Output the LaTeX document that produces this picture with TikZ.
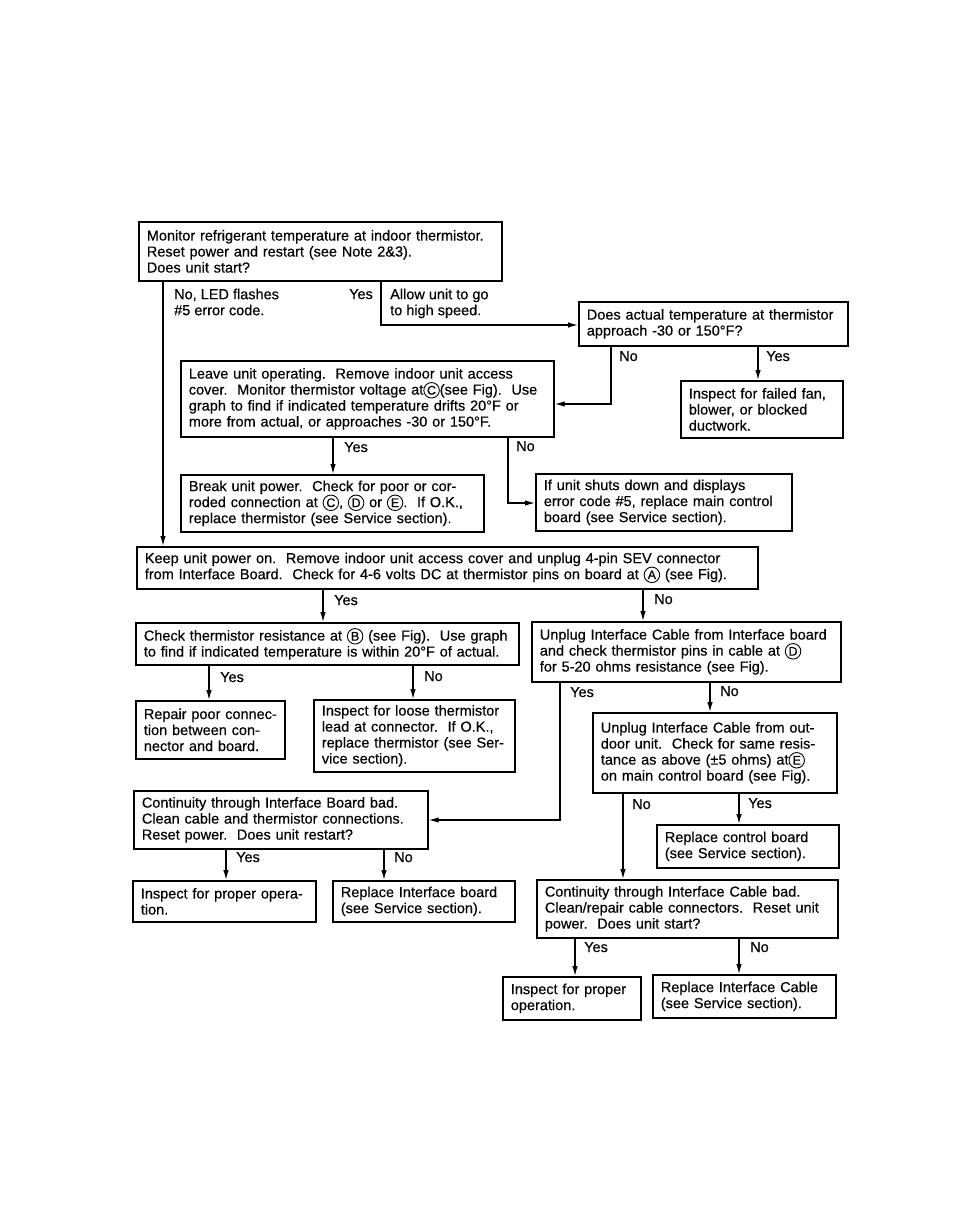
\documentclass[tikz,border=0pt]{standalone}
\usepackage{fontspec}
\setmainfont{Liberation Sans}[FakeBold=0.4]
\usetikzlibrary{arrows.meta}
\newcommand\cir[1]{\tikz[baseline=(cc.base)]\node[circle,draw,line width=0.9pt,inner sep=0pt,minimum size=15.5pt,text width={},align=center,anchor=center,font=\fontsize{12.5}{12.5}\selectfont] (cc) {#1};}
\newcommand\bx[6]{\node[box,minimum width={#4-#2},minimum height={#5-#3},text width={#4-#2-16}] (#1) at (#2,#3) {#6};}
\tikzset{
  txt/.style={font=\fontsize{14.5}{16}\selectfont},
  box/.style={txt,draw,line width=1.7pt,anchor=north west,align=left,inner xsep=8pt,inner ysep=0pt},
  lbl/.style={txt,inner sep=0pt},
  arr/.style={line width=1.2pt,-{Latex[length=10pt,width=5.5pt]}}
}
\begin{document}
\begin{tikzpicture}[x=1pt,y=-1pt]
\fill[white] (0,0) rectangle (954,1225);
\useasboundingbox (0,0) rectangle (954,1225);
% boxes
\bx{b1}{138}{221}{501}{280}{Monitor refrigerant temperature at indoor thermistor.\\Reset power and restart (see Note 2\&3).\\Does unit start?}
\bx{b2}{578}{301}{847}{345}{Does actual temperature at thermistor\\approach -30 or 150°F?}
\bx{b3}{180}{360}{553}{436}{Leave unit operating.\ \ Remove indoor unit access\\cover.\ \ Monitor thermistor voltage at\cir{C}(see Fig).\ \ Use\\graph to find if indicated temperature drifts 20°F or\\more from actual, or approaches -30 or 150°F.}
\bx{b4}{680}{380}{842}{437}{Inspect for failed fan,\\blower, or blocked\\ductwork.}
\bx{b5}{180}{474}{483}{531}{Break unit power.\ \ Check for poor or cor-\\roded connection at \cir{C}, \cir{D} or \cir{E}.\ \ If O.K.,\\replace thermistor (see Service section).}
\bx{b6}{535}{473}{791}{530}{If unit shuts down and displays\\error code \#5, replace main control\\board (see Service section).}
\bx{b7}{136}{546}{757}{588}{Keep unit power on.\ \ Remove indoor unit access cover and unplug 4-pin SEV connector\\from Interface Board.\ \ Check for 4-6 volts DC at thermistor pins on board at \cir{A} (see Fig).}
\bx{b8}{135}{622}{518}{664}{Check thermistor resistance at \cir{B} (see Fig).\ \ Use graph\\to find if indicated temperature is within 20°F of actual.}
\bx{b9}{531}{621}{840}{681}{Unplug Interface Cable from Interface board\\and check thermistor pins in cable at \cir{D}\\for 5-20 ohms resistance (see Fig).}
\bx{b10}{135}{700}{284}{758}{Repair poor connec-\\tion between con-\\nector and board.}
\bx{b11}{313}{699}{514}{771}{Inspect for loose thermistor\\lead at connector.\ \ If O.K.,\\replace thermistor (see Ser-\\vice section).}
\bx{b12}{592}{712}{836}{792}{Unplug Interface Cable from out-\\door unit.\ \ Check for same resis-\\tance as above (±5 ohms) at\cir{E}\\on main control board (see Fig).}
\bx{b13}{656}{824}{838}{867}{Replace control board\\(see Service section).}
\bx{b14}{133}{790}{427}{848}{Continuity through Interface Board bad.\\Clean cable and thermistor connections.\\Reset power.\ \ Does unit restart?}
\bx{b15}{536}{879}{837}{937}{Continuity through Interface Cable bad.\\Clean/repair cable connectors.\ \ Reset unit\\power.\ \ Does unit start?}
\bx{b16}{132}{880}{315}{921}{Inspect for proper opera-\\tion.}
\bx{b17}{332}{880}{514}{921}{Replace Interface board\\(see Service section).}
\bx{b18}{502}{976}{640}{1019}{Inspect for proper\\operation.}
\bx{b19}{652}{974}{835}{1017}{Replace Interface Cable\\(see Service section).}
% branch coordinates
\coordinate (k1) at (163,0);
\coordinate (k2) at (381,325);
\coordinate (k3) at (611,404);
\coordinate (k4) at (758,0);
\coordinate (k5) at (333,0);
\coordinate (k6) at (508,503);
\coordinate (k7) at (323,0);
\coordinate (k8) at (643,0);
\coordinate (k9) at (209,0);
\coordinate (k10) at (413,0);
\coordinate (k11) at (560,820);
\coordinate (k12) at (710,0);
\coordinate (k13) at (623,0);
\coordinate (k14) at (739,0);
\coordinate (k15) at (226,0);
\coordinate (k16) at (384,0);
\coordinate (k17) at (575,0);
\coordinate (k18) at (739,0);
% connectors
\draw[arr] (k1 |- b1.south) -- (k1 |- b7.north);
\draw[arr] (k2 |- b1.south) -- (k2) -- (k2 -| b2.west);
\draw[arr] (k3 |- b2.south) -- (k3) -- (k3 -| b3.east);
\draw[arr] (k4 |- b2.south) -- (k4 |- b4.north);
\draw[arr] (k5 |- b3.south) -- (k5 |- b5.north);
\draw[arr] (k6 |- b3.south) -- (k6) -- (k6 -| b6.west);
\draw[arr] (k7 |- b7.south) -- (k7 |- b8.north);
\draw[arr] (k8 |- b7.south) -- (k8 |- b9.north);
\draw[arr] (k9 |- b8.south) -- (k9 |- b10.north);
\draw[arr] (k10 |- b8.south) -- (k10 |- b11.north);
\draw[arr] (k11 |- b9.south) -- (k11) -- (k11 -| b14.east);
\draw[arr] (k12 |- b9.south) -- (k12 |- b12.north);
\draw[arr] (k13 |- b12.south) -- (k13 |- b15.north);
\draw[arr] (k14 |- b12.south) -- (k14 |- b13.north);
\draw[arr] (k15 |- b14.south) -- (k15 |- b16.north);
\draw[arr] (k16 |- b14.south) -- (k16 |- b17.north);
\draw[arr] (k17 |- b15.south) -- (k17 |- b18.north);
\draw[arr] (k18 |- b15.south) -- (k18 |- b19.north);
% labels
\node[lbl,align=left,anchor=north west] (t1) at (174,288.5) {No, LED flashes\\\#5 error code.};
\node[lbl,anchor=base east] (t2) at (373,299) {Yes};
\node[lbl,align=left,anchor=north west] (t3) at (390,288.5) {Allow unit to go\\to high speed.};
\node[lbl,anchor=base west] (l1) at (619,361) {No};
\node[lbl,anchor=base west] (l2) at (766,361) {Yes};
\node[lbl,anchor=base west] (l3) at (344,452) {Yes};
\node[lbl,anchor=base west] (l4) at (516,451) {No};
\node[lbl,anchor=base west] (l5) at (334,605) {Yes};
\node[lbl,anchor=base west] (l6) at (654,604) {No};
\node[lbl,anchor=base west] (l7) at (220,682) {Yes};
\node[lbl,anchor=base west] (l8) at (424,681) {No};
\node[lbl,anchor=base west] (l9) at (570,697) {Yes};
\node[lbl,anchor=base west] (l10) at (720,696) {No};
\node[lbl,anchor=base west] (l11) at (632,809) {No};
\node[lbl,anchor=base west] (l12) at (748,808) {Yes};
\node[lbl,anchor=base west] (l13) at (236,862) {Yes};
\node[lbl,anchor=base west] (l14) at (394,862) {No};
\node[lbl,anchor=base west] (l15) at (584,952) {Yes};
\node[lbl,anchor=base west] (l16) at (750,952) {No};
\end{tikzpicture}
\end{document}
